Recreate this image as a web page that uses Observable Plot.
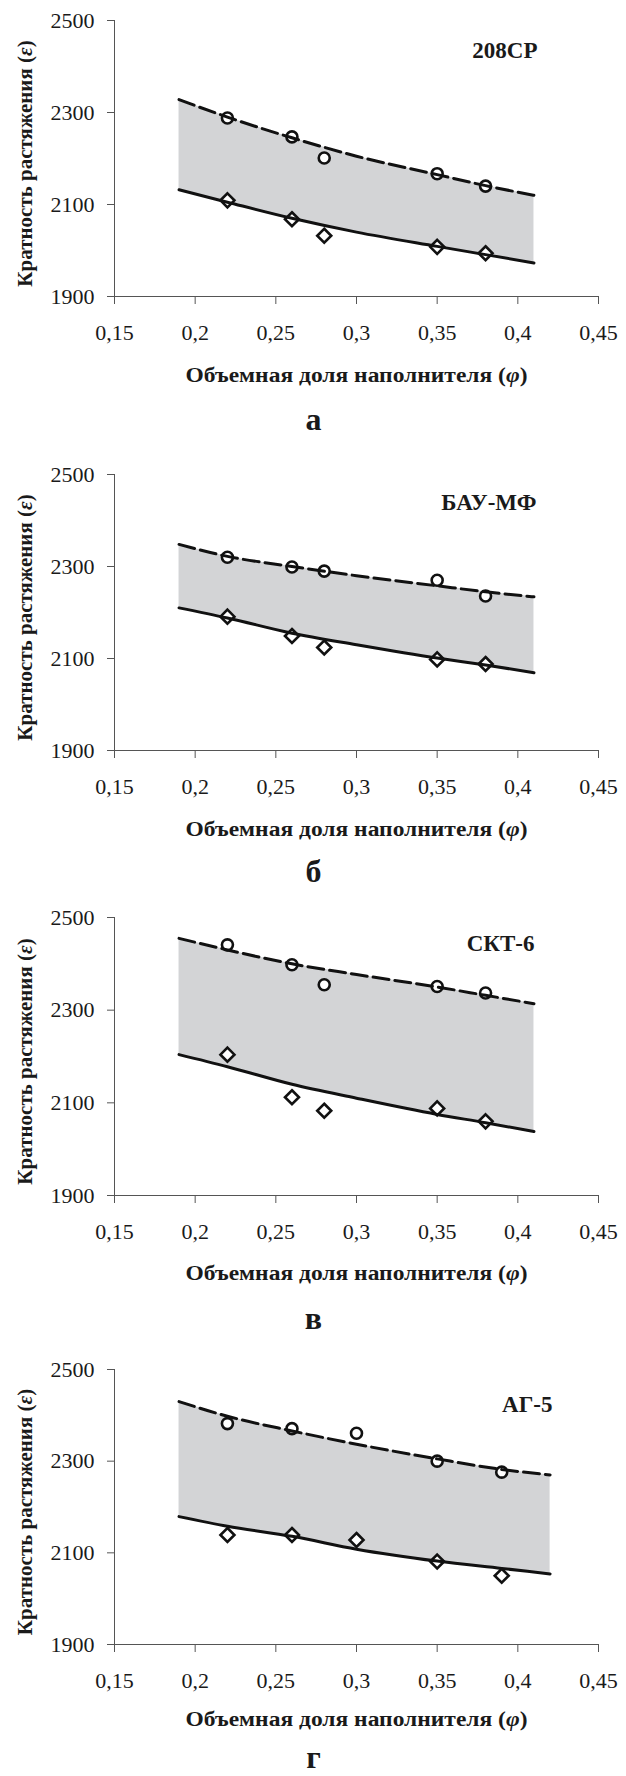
<!DOCTYPE html>
<html>
<head>
<meta charset="utf-8">
<script src="https://cdn.jsdelivr.net/npm/d3@7"></script>
<script src="https://cdn.jsdelivr.net/npm/@observablehq/plot@0.6"></script>
<style>
  html, body { margin: 0; padding: 0; background: #fff; }
  #chart svg { display: block; }
</style>
</head>
<body>
<div id="chart"></div>
<script>
// ---- data ----
const panelNames = ["208СР", "БАУ-МФ", "СКТ-6", "АГ-5"];
const panelLetters = ["а", "б", "в", "г"];
const xTicks = [0.15, 0.2, 0.25, 0.3, 0.35, 0.4, 0.45];
const yTicks = [1900, 2100, 2300, 2500];
const xTitle = "Объемная доля наполнителя (φ)";
const yTitle = "Кратность растяжения (ε)";

// measured points
const pointX_a = [0.22, 0.26, 0.28, 0.35, 0.38];
const circles_a = [2288, 2247, 2201, 2167, 2140];
const diamonds_a = [2109, 2068, 2032, 2008, 1994];
const pointX_b = [0.22, 0.26, 0.28, 0.35, 0.38];
const circles_b = [2320, 2299, 2290, 2270, 2236];
const diamonds_b = [2191, 2149, 2124, 2098, 2088];
const pointX_c = [0.22, 0.26, 0.28, 0.35, 0.38];
const circles_c = [2441, 2398, 2355, 2351, 2337];
const diamonds_c = [2204, 2112, 2083, 2088, 2060];
const pointX_d = [0.22, 0.26, 0.30, 0.35, 0.39];
const circles_d = [2382, 2371, 2361, 2300, 2276];
const diamonds_d = [2139, 2139, 2128, 2081, 2050];

// calculated curves
const curveX_a = [0.19, 0.22, 0.26, 0.30, 0.35, 0.38, 0.41];
const upper_a = [2328, 2290, 2245, 2205, 2165, 2141, 2120];
const lower_a = [2132, 2105, 2070, 2040, 2009, 1991, 1973];
const curveX_b = [0.19, 0.22, 0.26, 0.30, 0.35, 0.38, 0.41];
const upper_b = [2348, 2322, 2300, 2280, 2258, 2245, 2234];
const lower_b = [2210, 2188, 2155, 2130, 2101, 2086, 2069];
const curveX_c = [0.19, 0.22, 0.26, 0.30, 0.35, 0.38, 0.41];
const upper_c = [2455, 2430, 2400, 2377, 2350, 2332, 2314];
const lower_c = [2204, 2178, 2140, 2110, 2075, 2057, 2038];
const curveX_d = [0.19, 0.22, 0.26, 0.30, 0.35, 0.39, 0.42];
const upper_d = [2430, 2398, 2366, 2337, 2305, 2282, 2270];
const lower_d = [2179, 2158, 2136, 2108, 2082, 2066, 2054];

// ---- layout (positions / styles) ----
const layout = [
  {h: 450, mt: 20, mb: 154, nameDx: -61, nameDy: 30, titleDy: 79, letterDy: 123},
  {h: 445, mt: 24, mb: 145, nameDx: -62, nameDy: 28, titleDy: 79, letterDy: 121},
  {h: 450, mt: 22, mb: 150, nameDx: -64, nameDy: 26, titleDy: 78, letterDy: 123},
  {h: 431, mt: 24, mb: 132, nameDx: -46, nameDy: 35, titleDy: 75, letterDy: 113}
];

const panels = [
  {px: pointX_a, c: circles_a, d: diamonds_a, cx: curveX_a, up: upper_a, lo: lower_a},
  {px: pointX_b, c: circles_b, d: diamonds_b, cx: curveX_b, up: upper_b, lo: lower_b},
  {px: pointX_c, c: circles_c, d: diamonds_c, cx: curveX_c, up: upper_c, lo: lower_c},
  {px: pointX_d, c: circles_d, d: diamonds_d, cx: curveX_d, up: upper_d, lo: lower_d}
];

const W = 626;
const fmtX = d => String(d).replace(".", ",");
const fmtY = d => String(d);
const container = document.getElementById("chart");

panels.forEach((p, i) => {
  const L = layout[i];
  const pts = p.px.map((x, k) => ({x, c: p.c[k], d: p.d[k]}));
  const cur = p.cx.map((x, k) => ({x, up: p.up[k], lo: p.lo[k]}));
  const svg = Plot.plot({
    width: W,
    height: L.h,
    marginLeft: 114,
    marginRight: 28,
    marginTop: L.mt,
    marginBottom: L.mb,
    style: {fontFamily: "'Liberation Serif', 'Times New Roman', serif", background: "#fff", color: "#111"},
    x: {domain: [0.15, 0.45]},
    y: {domain: [1900, 2500]},
    marks: [
      Plot.areaY(cur, {x: "x", y1: "lo", y2: "up", fill: "#d3d4d6", curve: "monotone-x"}),
      Plot.ruleY([1900], {stroke: "#555", strokeWidth: 1}),
      Plot.ruleX([0.15], {stroke: "#555", strokeWidth: 1}),
      Plot.axisX({ticks: xTicks, tickFormat: fmtX, tickSize: 8, tickPadding: 20, fontSize: 22, stroke: "#555", fill: "#1a1a1a", label: null}),
      Plot.axisY({ticks: yTicks, tickFormat: fmtY, tickSize: 7, tickPadding: 13, fontSize: 22, stroke: "#555", fill: "#1a1a1a", label: null}),
      Plot.dot(pts, {x: "x", y: "c", symbol: "circle", r: 5.5, stroke: "#111", strokeWidth: 2.6, fill: "#fff"}),
      Plot.dot(pts, {x: "x", y: "d", symbol: "diamond2", r: 6.3, stroke: "#111", strokeWidth: 2.6, fill: "#fff"}),
      Plot.line(cur, {x: "x", y: "up", stroke: "#111", strokeWidth: 3, strokeDasharray: "16,6", curve: "monotone-x"}),
      Plot.line(cur, {x: "x", y: "lo", stroke: "#111", strokeWidth: 3, curve: "monotone-x"}),
      Plot.text([panelNames[i]], {frameAnchor: "top-right", textAnchor: "end", lineAnchor: "middle", dx: L.nameDx, dy: L.nameDy, fontSize: 23, fontWeight: "bold", fill: "#1a1a1a"}),
      Plot.text([xTitle], {frameAnchor: "bottom", lineAnchor: "middle", dy: L.titleDy, fontSize: 20.5, fontWeight: "bold", fill: "#1a1a1a", className: "xtitle"}),
      Plot.text([panelLetters[i]], {frameAnchor: "bottom", lineAnchor: "middle", dx: -43, dy: L.letterDy, fontSize: 32, fontWeight: "bold", fill: "#1a1a1a"}),
      Plot.text([yTitle], {frameAnchor: "left", textAnchor: "middle", lineAnchor: "middle", rotate: -90, dx: -89, dy: 5, fontSize: 21, fontWeight: "bold", fill: "#1a1a1a"})
    ]
  });
  // italic Greek letters in the axis titles
  svg.querySelectorAll("text").forEach(t => {
    const s = t.textContent;
    const m = s.match(/^(.*\()([φε])(\))$/);
    if (m && t.children.length === 0) {
      t.textContent = "";
      const ns = "http://www.w3.org/2000/svg";
      const a = document.createElementNS(ns, "tspan"); a.textContent = m[1];
      const b = document.createElementNS(ns, "tspan"); b.textContent = m[2]; b.setAttribute("font-style", "italic");
      const c = document.createElementNS(ns, "tspan"); c.textContent = m[3];
      t.append(a, b, c);
      if (m[2] === "φ") {
        t.setAttribute("textLength", "342");
        t.setAttribute("lengthAdjust", "spacingAndGlyphs");
      }
    }
  });
  container.appendChild(svg);
});
</script>
</body>
</html>
